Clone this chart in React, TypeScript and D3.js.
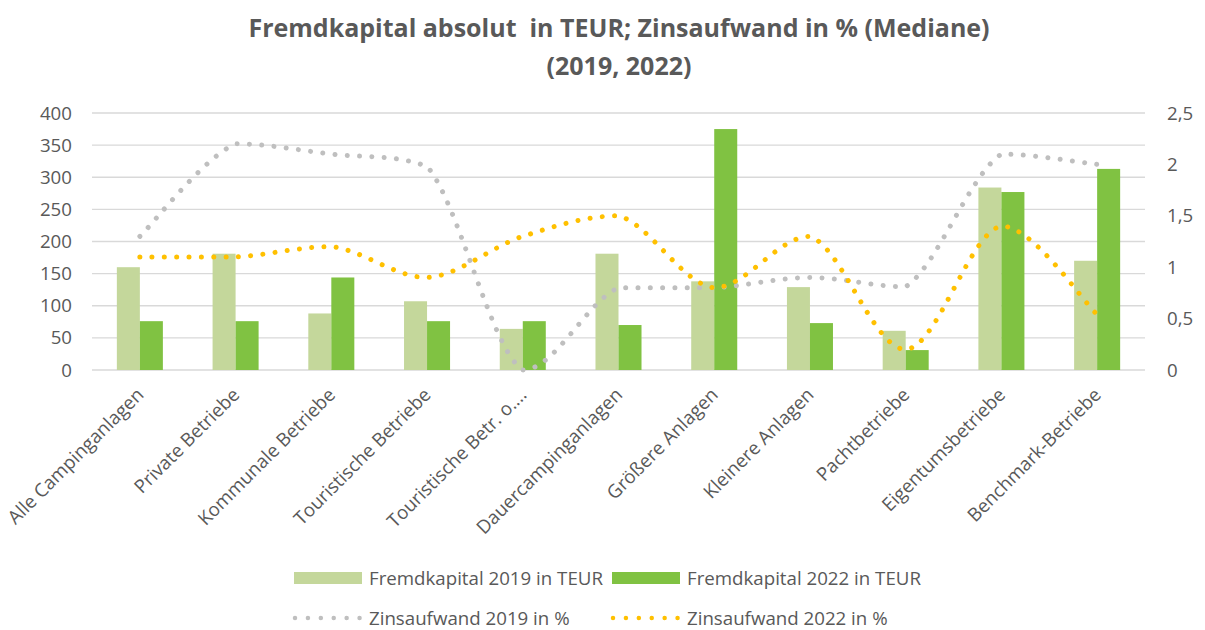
import React, { useEffect, useRef } from 'react';
import * as d3 from 'd3';

// categories and values
const categories = [
  'Alle Campinganlagen',
  'Private Betriebe',
  'Kommunale Betriebe',
  'Touristische Betriebe',
  'Touristische Betr. o....',
  'Dauercampinganlagen',
  'Größere Anlagen',
  'Kleinere Anlagen',
  'Pachtbetriebe',
  'Eigentumsbetriebe',
  'Benchmark-Betriebe',
];
const fk2019 = [160, 181, 88, 107, 64, 181, 138, 129, 61, 284, 170];
const fk2022 = [76, 76, 144, 76, 76, 70, 375, 73, 31, 277, 313];
const zins2019 = [1.3, 2.2, 2.1, 1.98, 0, 0.8, 0.8, 0.9, 0.81, 2.1, 2.0];
const zins2022 = [1.1, 1.1, 1.2, 0.9, 1.3, 1.5, 0.8, 1.3, 0.2, 1.4, 0.54];
const leftTicks = [0, 50, 100, 150, 200, 250, 300, 350, 400];
const rightTicks = [0, 0.5, 1, 1.5, 2, 2.5];

const FONT = '"Open Sans", sans-serif';
const TXT = '#595959';
const C19 = '#c4d79b';
const C22 = '#80c242';
const Z19 = '#bfbfbf';
const Z22 = '#ffc000';
const FS = '18.7px';

// smoothing close to Excel's: catmull-rom control points, kept inside each segment's y range
function smoothPath(pts: [number, number][]) {
  const p = d3.path();
  p.moveTo(pts[0][0], pts[0][1]);
  for (let i = 0; i < pts.length - 1; i++) {
    const p1 = pts[i], p2 = pts[i + 1];
    const p0 = i > 0 ? pts[i - 1] : p1;
    const p3 = i < pts.length - 2 ? pts[i + 2] : p2;
    const lo = Math.min(p1[1], p2[1]), hi = Math.max(p1[1], p2[1]);
    const clamp = (v: number) => Math.max(lo, Math.min(hi, v));
    const c1x = p1[0] + (p2[0] - p0[0]) / 6, c1y = clamp(p1[1] + (p2[1] - p0[1]) / 6);
    const c2x = p2[0] - (p3[0] - p1[0]) / 6, c2y = clamp(p2[1] - (p3[1] - p1[1]) / 6);
    p.bezierCurveTo(c1x, c1y, c2x, c2y, p2[0], p2[1]);
  }
  return p.toString();
}

export default function App() {
  const ref = useRef<SVGSVGElement>(null);

  useEffect(() => {
    const svg = d3.select(ref.current);
    svg.selectAll('*').remove();

    const left = 92, right = 1145, top = 113, bottom = 370;

    const x = d3.scaleBand().domain(categories).range([left, right]);
    const x1 = d3.scaleBand().domain(['2019', '2022']).range([0, x.bandwidth()]).paddingOuter(1.08);
    const yL = d3.scaleLinear().domain([0, 400]).range([bottom, top]);
    const yR = d3.scaleLinear().domain([0, 2.5]).range([bottom, top]);
    const de = d3.formatLocale({ decimal: ',', thousands: '.', grouping: [3], currency: ['', '€'] });
    const fmtR = de.format('~g');
    const cx = (i: number) => x(categories[i])! + x.bandwidth() / 2;

    // title
    const title = svg.append('text')
      .attr('text-anchor', 'middle')
      .style('font-family', FONT).style('font-weight', 'bold').style('font-size', '25px')
      .style('white-space', 'pre').attr('fill', TXT);
    title.append('tspan').attr('x', 619).attr('y', 37).text('Fremdkapital absolut  in TEUR; Zinsaufwand in % (Mediane)');
    title.append('tspan').attr('x', 619).attr('y', 75).text('(2019, 2022)');

    // grid
    svg.append('g').selectAll('line').data(leftTicks).join('line')
      .attr('x1', left).attr('x2', right)
      .attr('y1', d => yL(d)).attr('y2', d => yL(d))
      .attr('stroke', '#d9d9d9').attr('stroke-width', 1.3);

    // left axis labels
    svg.append('g').selectAll('text').data(leftTicks).join('text')
      .attr('x', 72).attr('y', d => yL(d)).attr('dy', '0.35em')
      .attr('text-anchor', 'end')
      .style('font-family', FONT).style('font-size', FS).attr('fill', TXT)
      .text(d => d);

    // right axis labels
    svg.append('g').selectAll('text').data(rightTicks).join('text')
      .attr('x', 1167).attr('y', d => yR(d)).attr('dy', '0.35em')
      .attr('text-anchor', 'start')
      .style('font-family', FONT).style('font-size', FS).attr('fill', TXT)
      .text(d => fmtR(d));

    // bars
    const bars = svg.append('g');
    bars.selectAll('.b19').data(fk2019).join('rect').attr('class', 'b19')
      .attr('x', (d, i) => x(categories[i])! + x1('2019')!)
      .attr('width', x1.bandwidth())
      .attr('y', d => yL(d)).attr('height', d => bottom - yL(d))
      .attr('fill', C19);
    bars.selectAll('.b22').data(fk2022).join('rect').attr('class', 'b22')
      .attr('x', (d, i) => x(categories[i])! + x1('2022')!)
      .attr('width', x1.bandwidth())
      .attr('y', d => yL(d)).attr('height', d => bottom - yL(d))
      .attr('fill', C22);

    // smoothed dotted lines
    [[zins2019, Z19], [zins2022, Z22]].forEach(([vals, col]) => {
      const pts = (vals as number[]).map((v, i) => [cx(i), yR(v)] as [number, number]);
      svg.append('path')
        .attr('d', smoothPath(pts))
        .attr('fill', 'none').attr('stroke', col as string)
        .attr('stroke-width', 5).attr('stroke-linecap', 'round')
        .attr('stroke-dasharray', '0.01 12.3');
    });

    // category labels
    svg.append('g').selectAll('text').data(categories).join('text')
      .attr('transform', (d, i) => `translate(${cx(i) + 5},${396}) rotate(-45)`)
      .attr('text-anchor', 'end')
      .style('font-family', FONT).style('font-size', FS).attr('fill', TXT)
      .text(d => d);

    // legend
    const lg = svg.append('g').style('font-family', FONT).style('font-size', FS).attr('fill', TXT);
    const items = [
      { label: 'Fremdkapital 2019 in TEUR', col: C19, kind: 'bar', lx: 294, ly: 578 },
      { label: 'Fremdkapital 2022 in TEUR', col: C22, kind: 'bar', lx: 612, ly: 578 },
      { label: 'Zinsaufwand 2019 in %', col: Z19, kind: 'line', lx: 294, ly: 618 },
      { label: 'Zinsaufwand 2022 in %', col: Z22, kind: 'line', lx: 612, ly: 618 },
    ];
    items.forEach(it => {
      if (it.kind === 'bar') {
        lg.append('rect').attr('x', it.lx).attr('y', it.ly - 6).attr('width', 68).attr('height', 12).attr('fill', it.col);
      } else {
        lg.append('line').attr('x1', it.lx + 1).attr('x2', it.lx + 66).attr('y1', it.ly).attr('y2', it.ly)
          .attr('stroke', it.col).attr('stroke-width', 4.5).attr('stroke-linecap', 'round')
          .attr('stroke-dasharray', '0.01 12.9');
      }
      lg.append('text').attr('x', it.lx + 75).attr('y', it.ly).attr('dy', '0.35em').text(it.label);
    });
  }, []);

  return (
    <svg ref={ref} width={1205} height={630}
      style={{ position: 'absolute', left: 0, top: 0, background: '#fff' }} />
  );
}
